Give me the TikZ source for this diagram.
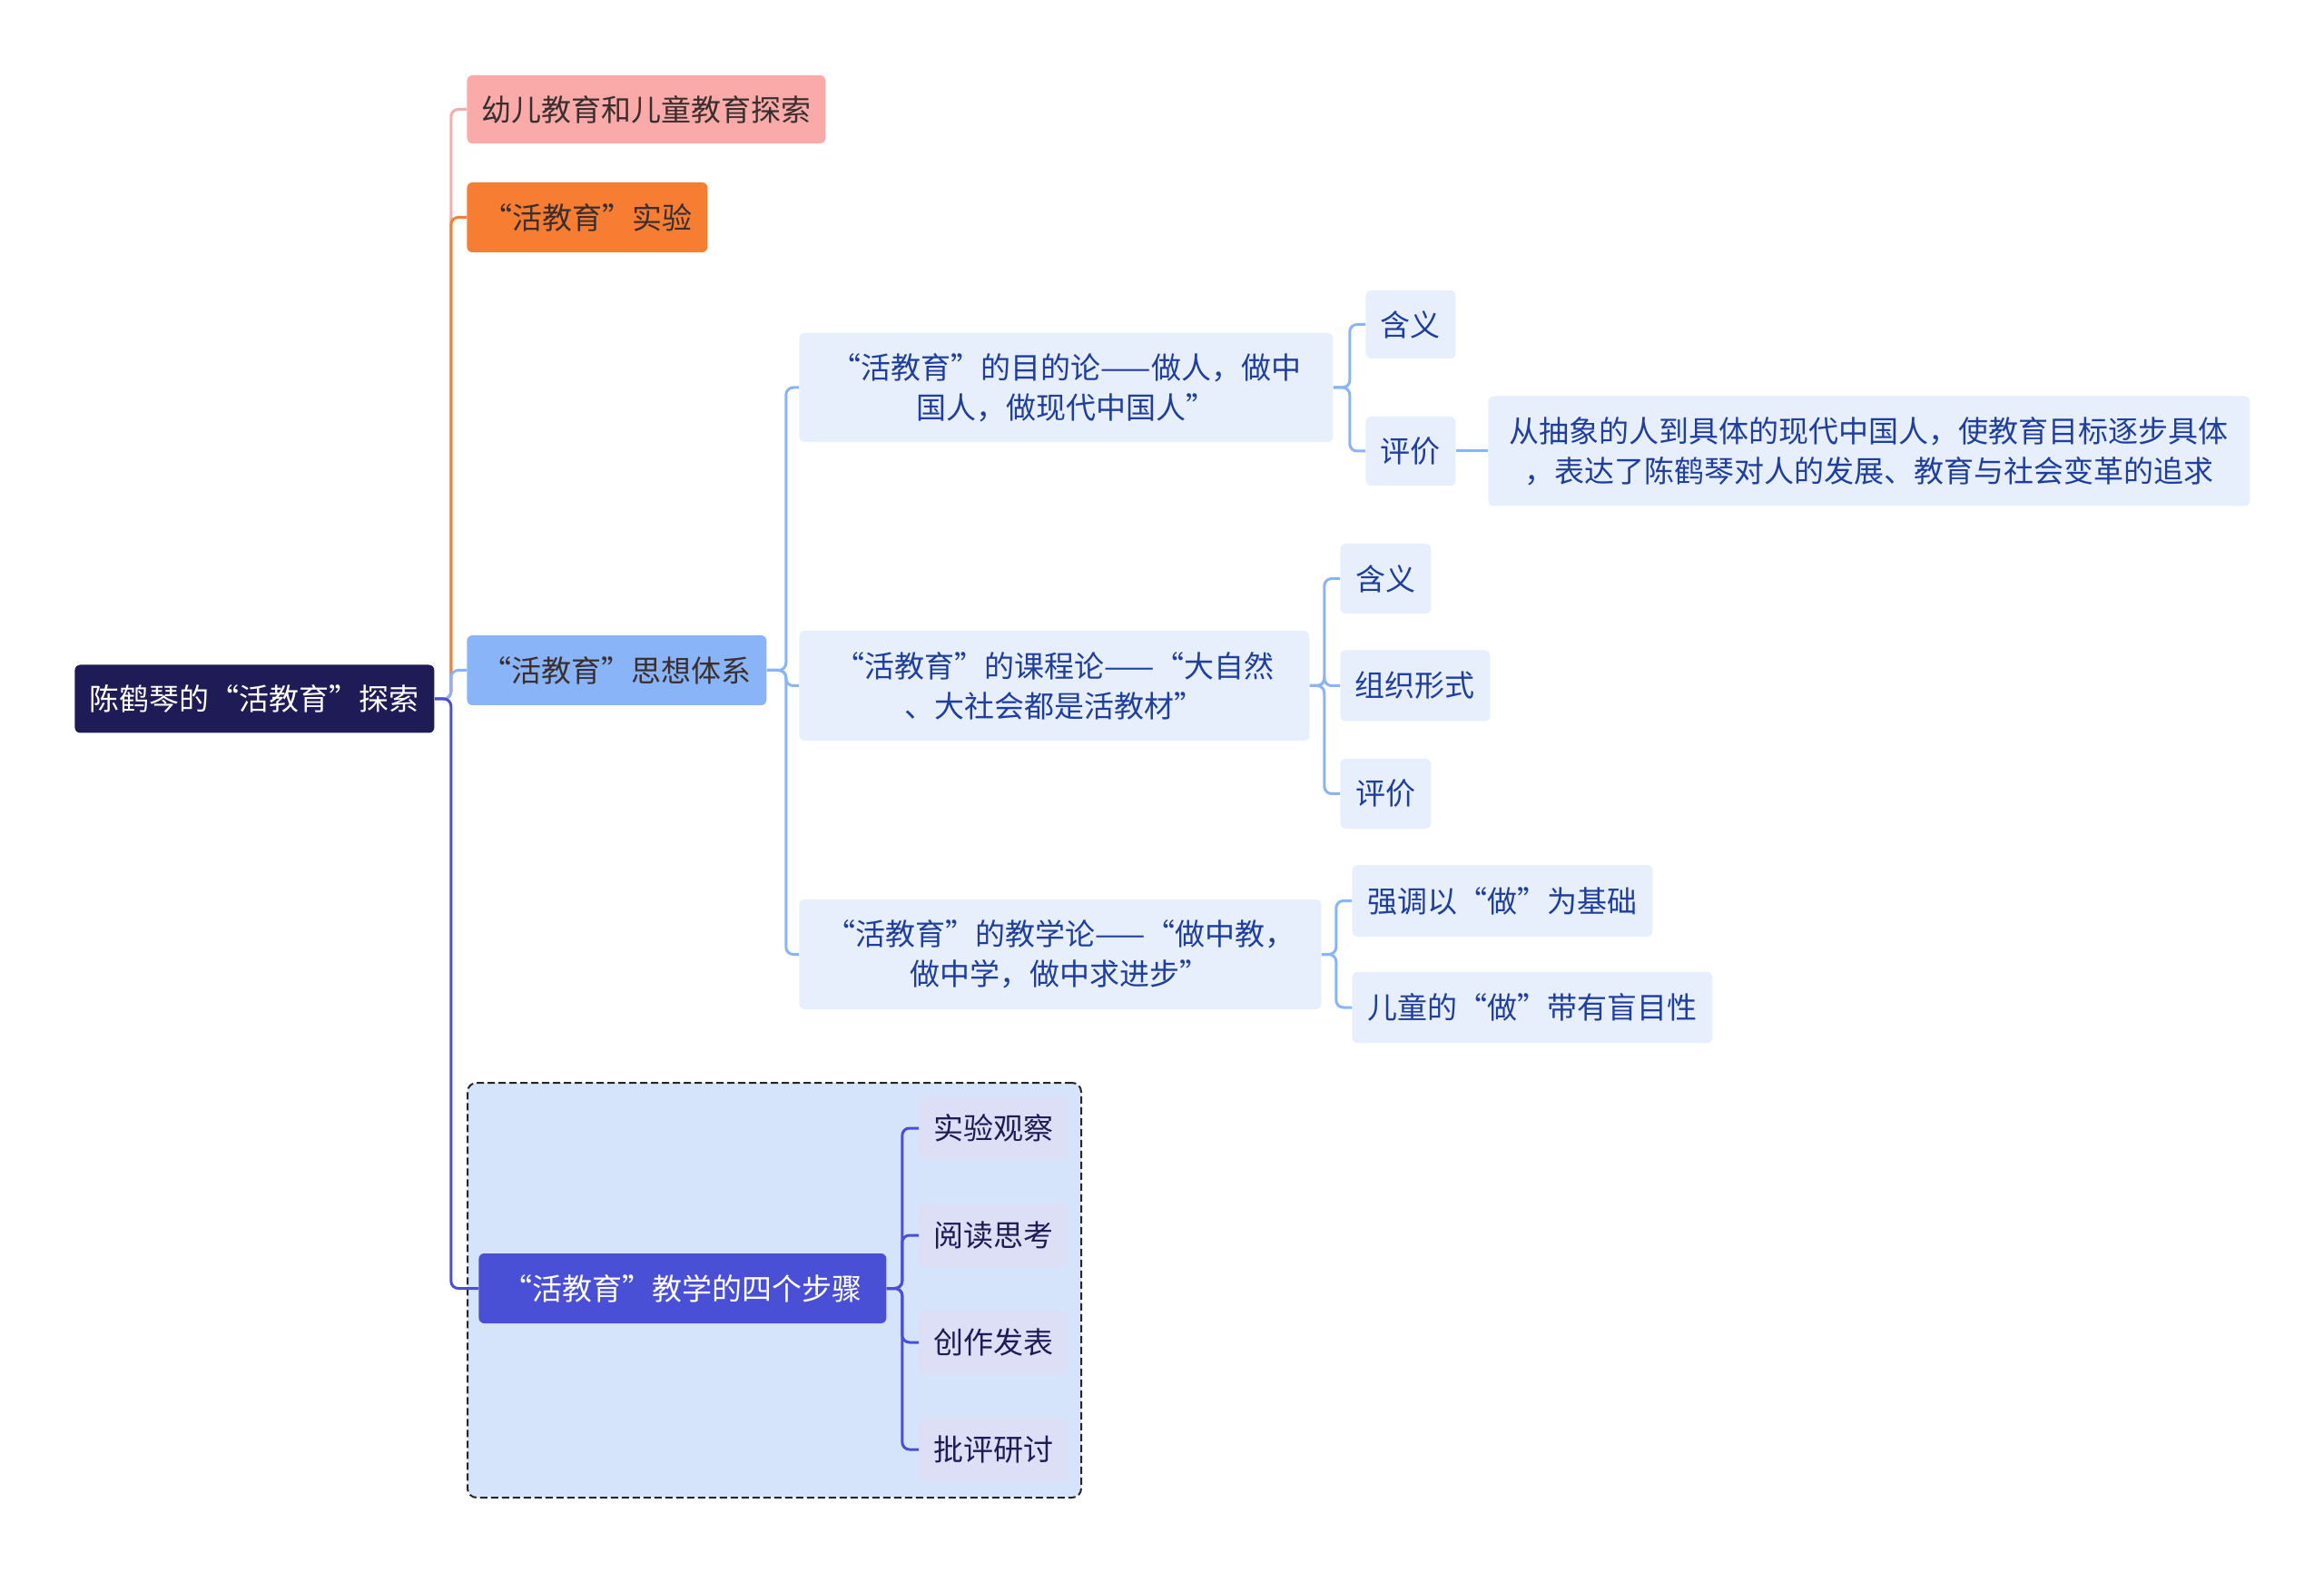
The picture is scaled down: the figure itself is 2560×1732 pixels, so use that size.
\documentclass[tikz,border=0pt]{standalone}
\usepackage{fontspec}
\setmainfont{Noto Sans CJK SC}
\definecolor{navy}{HTML}{1E1B57}
\definecolor{pinkfill}{HTML}{F9AAA9}
\definecolor{orangefill}{HTML}{F67D32}
\definecolor{skyfill}{HTML}{8AB4F8}
\definecolor{bluefill}{HTML}{4A50D6}
\definecolor{palefill}{HTML}{E7EFFD}
\definecolor{groupfill}{HTML}{D6E4FB}
\definecolor{stepfill}{HTML}{DDDFF6}
\definecolor{paletext}{HTML}{1F3E9E}
\definecolor{darktext}{HTML}{3A2E2E}

\begin{document}
\begin{tikzpicture}[x=0.5pt, y=-0.5pt,
  every node/.style={font=\fontsize{16.5pt}{22pt}\selectfont, inner sep=0pt, rounded corners=3pt, align=center, anchor=west},
  rootbox/.style={fill=navy, text=white},
  pinkbox/.style={fill=pinkfill, text=darktext},
  orangebox/.style={fill=orangefill, text=darktext},
  skybox/.style={fill=skyfill, text=darktext},
  bluebox/.style={fill=bluefill, text=white},
  palebox/.style={fill=palefill, text=paletext},
  stepbox/.style={fill=stepfill, text=navy, minimum width=82pt, minimum height=35pt},
  groupbox/.style={draw=black!85, dash pattern=on 4pt off 2pt, line width=1pt, fill=groupfill, rounded corners=5pt, anchor=north west},
  link/.style={line width=1.5pt, rounded corners=4pt}]
\fill[white] (0,0) rectangle (2560,1732);
\useasboundingbox (0,0) rectangle (2560,1732);

% group behind the four steps
\node[groupbox, minimum width=338pt, minimum height=228.5pt] (grp) at (514,1192) {};

% root and main branches
\node[rootbox, minimum width=198pt, minimum height=37.5pt] (root) at (82,770) {陈鹤琴的“活教育”探索};
\node[pinkbox, minimum width=197.5pt, minimum height=37.5pt] (early) at (514,120.5) {幼儿教育和儿童教育探索};
\node[orangebox, minimum width=132.5pt, minimum height=38.5pt] (exper) at (514,239.5) {“活教育”实验};
\node[skybox, minimum width=165pt, minimum height=38.5pt] (system) at (514,738.5) {“活教育”思想体系};
\node[bluebox, minimum width=224.5pt, minimum height=38.5pt] (steps) at (527,1419.5) {“活教育”教学的四个步骤};

% thought system
\node[palebox, minimum width=294pt, minimum height=60pt] (aim) at (880,427) {“活教育”的目的论——做人，做中\\国人，做现代中国人”};
\node[palebox, minimum width=281pt, minimum height=60.5pt] (course) at (880,755.5) {“活教育”的课程论——“大自然\\、大社会都是活教材”};
\node[palebox, minimum width=287.5pt, minimum height=60.5pt] (teach) at (880,1051.5) {“活教育”的教学论——“做中教，\\做中学，做中求进步”};

\node[palebox, minimum width=49.5pt, minimum height=37.5pt] (aimmean) at (1504,357.5) {含义};
\node[palebox, minimum width=49.5pt, minimum height=38pt] (aimeval) at (1504,497) {评价};
\node[palebox, minimum width=419.5pt, minimum height=60.5pt] (aimnote) at (1639,497) {从抽象的人到具体的现代中国人，使教育目标逐步具体\\，表达了陈鹤琴对人的发展、教育与社会变革的追求};

\node[palebox, minimum width=50pt, minimum height=38.5pt] (coursemean) at (1476,637.5) {含义};
\node[palebox, minimum width=82.5pt, minimum height=39pt] (courseform) at (1476,755.5) {组织形式};
\node[palebox, minimum width=50pt, minimum height=38.5pt] (courseeval) at (1476,874.5) {评价};

\node[palebox, minimum width=165.5pt, minimum height=39.5pt] (teachbase) at (1489,992.5) {强调以“做”为基础};
\node[palebox, minimum width=198.5pt, minimum height=39pt] (teachblind) at (1489,1110) {儿童的“做”带有盲目性};

% four steps
\node[stepbox] (s1) at (1012,1243) {实验观察};
\node[stepbox] (s2) at (1012,1361) {阅读思考};
\node[stepbox] (s3) at (1012,1479) {创作发表};
\node[stepbox] (s4) at (1012,1597) {批评研讨};

% connectors
\draw[link, pinkfill] (root.east) -- ++(9pt,0) |- (early.west);
\draw[link, orangefill] (root.east) -- ++(9pt,0) |- (exper.west);
\draw[link, skyfill] (root.east) -- ++(9pt,0) |- (system.west);
\draw[link, bluefill] (root.east) -- ++(9pt,0) |- (steps.west);

\foreach \kid in {aim,course,teach}
  \draw[link, skyfill] (system.east) -- ++(10.5pt,0) |- (\kid.west);
\foreach \kid in {aimmean,aimeval}
  \draw[link, skyfill] (aim.east) -- ++(9pt,0) |- (\kid.west);
\draw[link, skyfill] (aimeval.east) -- (aimnote.west);
\foreach \kid in {coursemean,courseform,courseeval}
  \draw[link, skyfill] (course.east) -- ++(8pt,0) |- (\kid.west);
\foreach \kid in {teachbase,teachblind}
  \draw[link, skyfill] (teach.east) -- ++(8pt,0) |- (\kid.west);
\foreach \kid in {s1,s2,s3,s4}
  \draw[link, bluefill] (steps.east) -- ++(8.5pt,0) |- (\kid.west);
\end{tikzpicture}
\end{document}
